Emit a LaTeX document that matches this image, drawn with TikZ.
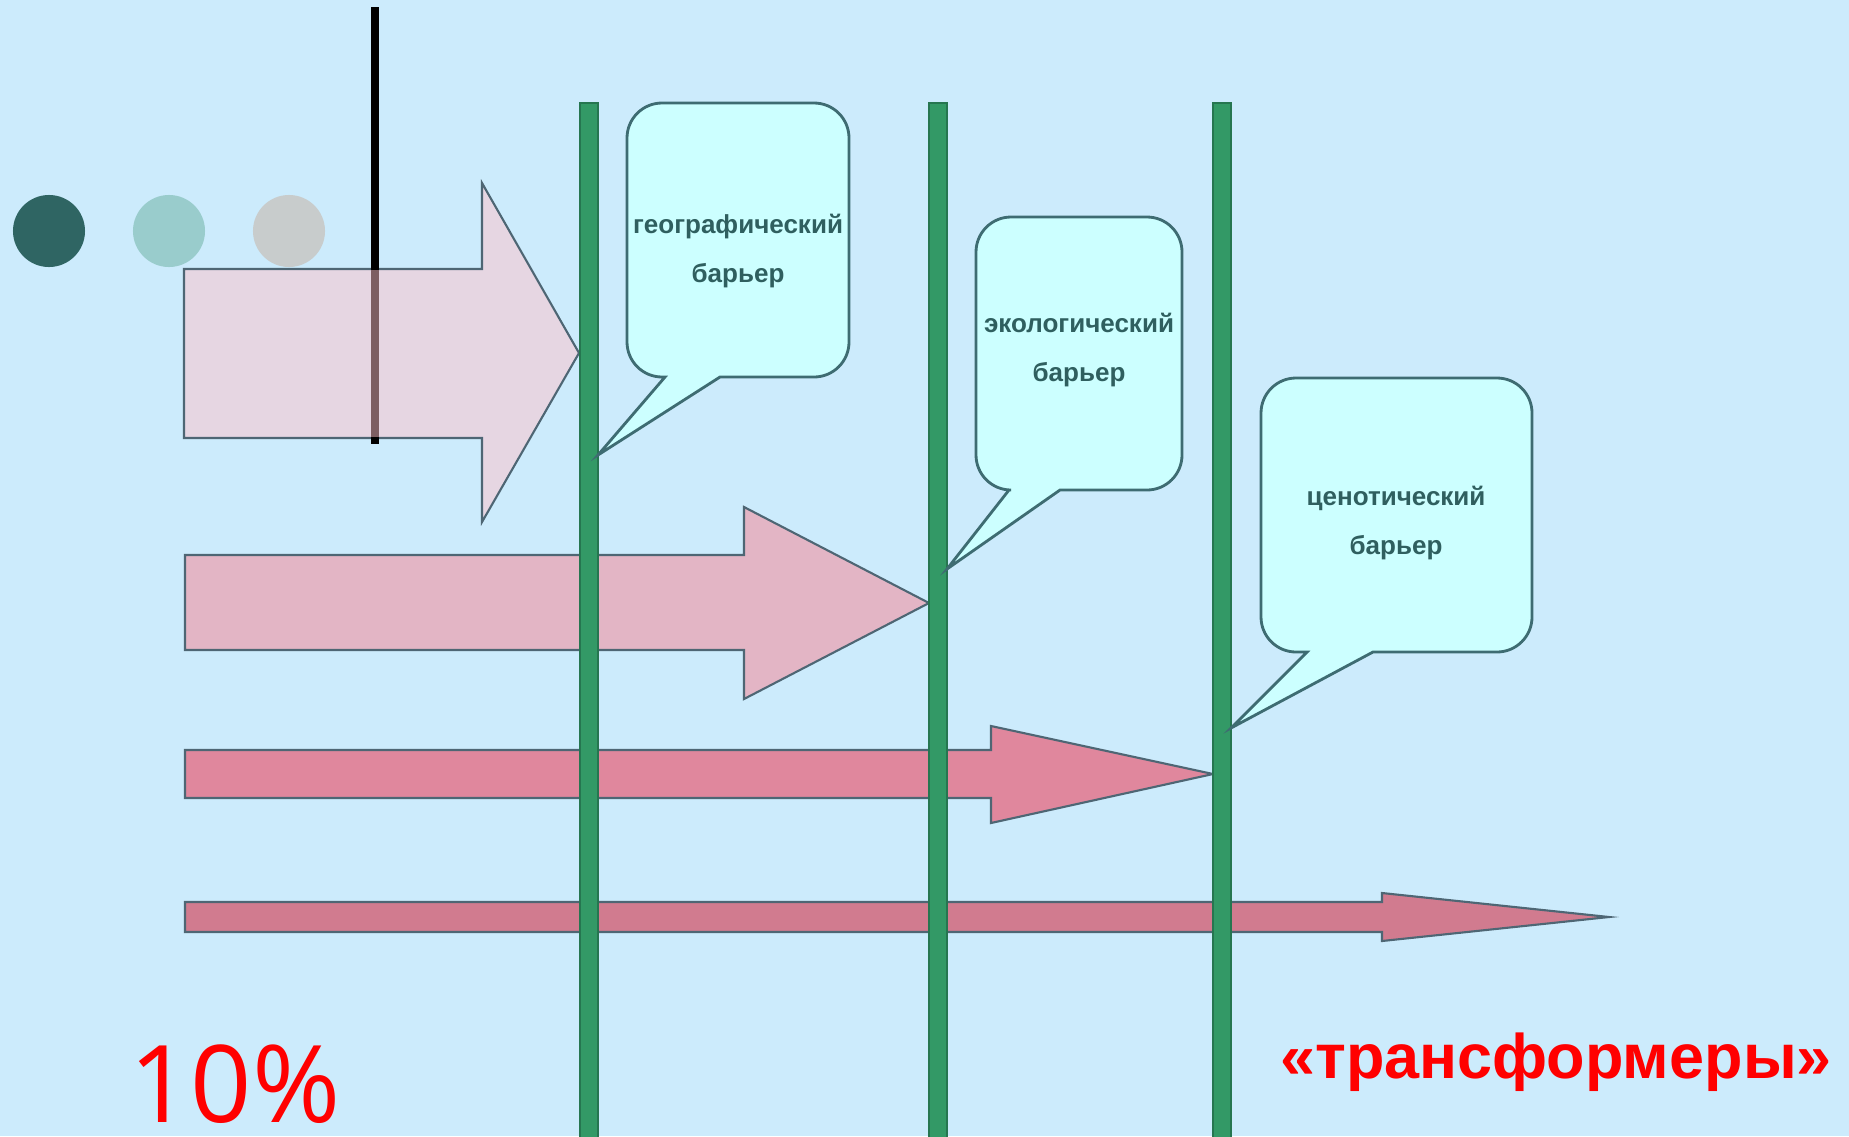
\documentclass[tikz,border=0pt]{standalone}
\usepackage{fontspec}
\setmainfont{Liberation Sans}
\newfontfamily\pctfont{Open Sans}

\definecolor{sky}{RGB}{204,235,252}
\definecolor{dotA}{RGB}{47,101,99}
\definecolor{dotB}{RGB}{153,204,204}
\definecolor{dotC}{RGB}{200,204,204}
\definecolor{flowline}{RGB}{78,102,116}
\definecolor{flowA}{RGB}{230,214,226}
\definecolor{flowB}{RGB}{227,181,197}
\definecolor{flowC}{RGB}{224,135,157}
\definecolor{flowD}{RGB}{209,123,143}
\definecolor{bargreen}{RGB}{51,153,102}
\definecolor{bardark}{RGB}{38,118,80}
\definecolor{bubblefill}{RGB}{204,255,255}
\definecolor{bubbleline}{RGB}{62,108,114}
\definecolor{bubbletext}{RGB}{47,95,95}
\definecolor{stickin}{RGB}{125,94,98}

\begin{document}
\begin{tikzpicture}[x=0.01cm, y=-0.01cm,
  flow/.style={draw=flowline, line width=0.6pt, line join=miter},
  barrier/.style={fill=bargreen, draw=bardark, line width=0.4pt},
  bubble/.style={fill=bubblefill, draw=bubbleline, line width=0.8pt},
  note/.style={text=bubbletext, align=center, font=\fontsize{7.4}{13.7}\selectfont\bfseries}]

\fill[sky] (0,0) rectangle (1849,1136);
\useasboundingbox (0,0) rectangle (1849,1136);

\fill[dotA] (49,231) circle (3.6mm);
\fill[dotB] (169,231) circle (3.6mm);
\fill[dotC] (289,231) circle (3.6mm);

\coordinate (b1) at (598,455);
\coordinate (b2) at (947,569);
\coordinate (b3) at (1231,728);

\filldraw[flow, fill=flowA] (184,269) -- (482,269) -- (482,183) -- (579,353) -- (482,522) -- (482,438) -- (184,438) -- cycle;
\filldraw[flow, fill=flowB] (185,555) -- (744,555) -- (744,507) -- (929,603) -- (744,699) -- (744,650) -- (185,650) -- cycle;
\filldraw[flow, fill=flowC] (185,750) -- (991,750) -- (991,726) -- (1213,774) -- (991,823) -- (991,798) -- (185,798) -- cycle;
\filldraw[flow, fill=flowD] (185,902) -- (1382,902) -- (1382,893) -- (1609,917) -- (1382,941) -- (1382,932) -- (185,932) -- cycle;

\draw[line width=2.3pt] (375,7) -- (375,444);
\draw[line width=2.3pt, stickin] (375,270) -- (375,437);

\filldraw[barrier] (580,103) rectangle (598,1140);
\filldraw[barrier] (929,103) rectangle (947,1140);
\filldraw[barrier] (1213,103) rectangle (1231,1140);

\filldraw[bubble] (665,377) [rounded corners=3.5mm] -- (627,377) -- (627,103) -- (849,103) -- (849,377) [sharp corners] -- (720,377) -- (b1) -- cycle;
\filldraw[bubble] (1009,490) [rounded corners=3.5mm] -- (976,490) -- (976,217) -- (1182,217) -- (1182,490) [sharp corners] -- (1060,490) -- (b2) -- cycle;
\filldraw[bubble] (1307,652) [rounded corners=3.5mm] -- (1261,652) -- (1261,378) -- (1532,378) -- (1532,652) [sharp corners] -- (1373,652) -- (b3) -- cycle;

\node[note] (geo) at (738,251) {географический\\барьер};
\node[note] (eco) at (1079,350) {экологический\\барьер};
\node[note] (ceno) at (1396,523) {ценотический\\барьер};

\node[anchor=base, inner sep=0pt, text depth=0pt, text=red, font=\pctfont\fontsize{30.5}{30.5}\selectfont] (pct) at (235,1122) {10\%};
\node[anchor=base, inner sep=0pt, text depth=0pt, text=red, font=\fontsize{17.9}{17.9}\selectfont\bfseries] (trans) at (1556,1078) {«трансформеры»};

\end{tikzpicture}
\end{document}
